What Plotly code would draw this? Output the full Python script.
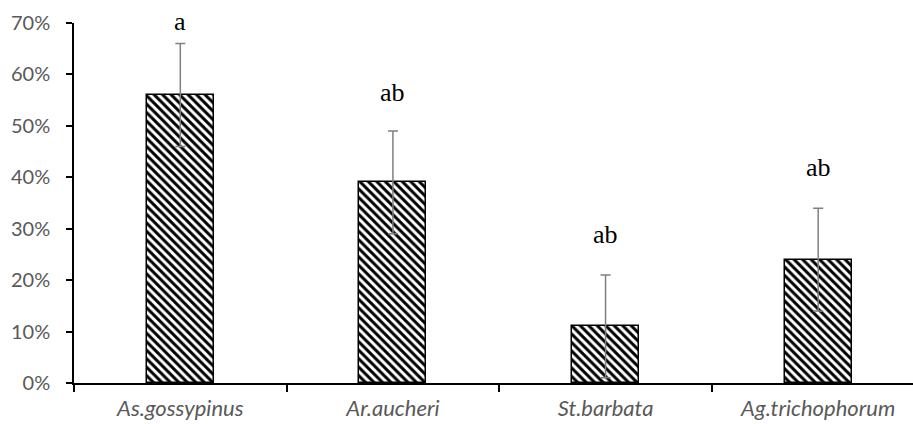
import plotly.graph_objects as go

categories = ["As.gossypinus", "Ar.aucheri", "St.barbata", "Ag.trichophorum"]
values = [0.56, 0.39, 0.11, 0.24]
errors = [0.10, 0.10, 0.10, 0.10]
letters = ["a", "ab", "ab", "ab"]
letter_y = [0.695, 0.558, 0.281, 0.411]
y_ticks = [0, 0.1, 0.2, 0.3, 0.4, 0.5, 0.6, 0.7]

fig = go.Figure()
fig.add_trace(go.Bar(
    x=categories, y=values, width=0.315,
    marker=dict(color="white", line=dict(color="black", width=1.5),
                pattern=dict(shape="\\", size=6, solidity=0.5,
                             fgcolor="black", bgcolor="white", fillmode="replace")),
    error_y=dict(type="data", array=errors, visible=True, color="#7f7f7f",
                 thickness=1.5, width=5),
    showlegend=False,
))

for c, t, yy in zip(categories, letters, letter_y):
    fig.add_annotation(x=c, y=yy, text=t, showarrow=False, yanchor="middle", yshift=4,
                       font=dict(family="Liberation Serif", size=26, color="black"))

fig.update_layout(
    width=913, height=424,
    margin=dict(l=74, r=0, t=23, b=41),
    plot_bgcolor="white", paper_bgcolor="white",
    bargap=0,
)
fig.update_xaxes(
    range=[-0.5, 3.446], showline=True, linecolor="black", linewidth=1.5,
    ticks="outside", tickson="boundaries", ticklen=7, tickcolor="black", tickwidth=1.5,
    tickfont=dict(family="Lato", size=22, color="#595959", style="italic"),
    ticklabelstandoff=5, showgrid=False,
)
fig.update_yaxes(
    range=[0, 0.7], tickvals=y_ticks, tickformat=".0%",
    showline=True, linecolor="black", linewidth=1.5,
    ticks="outside", ticklen=6, tickcolor="black", tickwidth=1.5,
    tickfont=dict(family="Lato", size=20, color="#595959"),
    ticklabelstandoff=12, showgrid=False, zeroline=False,
)

fig.write_html("out.html")
